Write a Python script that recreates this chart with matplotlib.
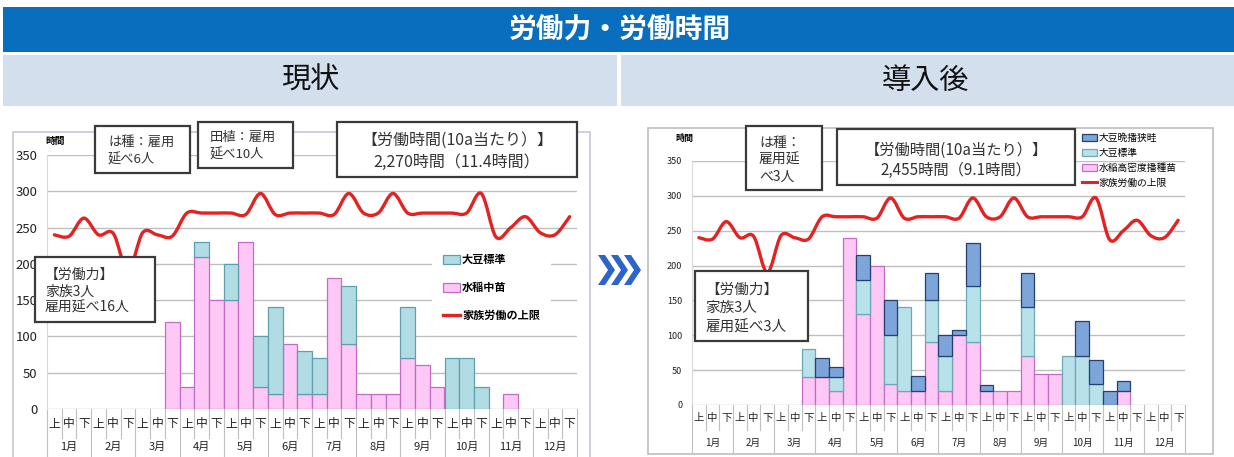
import numpy as np
import matplotlib
matplotlib.use('Agg')
import matplotlib.pyplot as plt
from matplotlib.patches import Rectangle, Polygon, PathPatch, Patch
from matplotlib.path import Path
from matplotlib.lines import Line2D

plt.rcParams['font.family'] = ['Noto Sans CJK JP', 'DejaVu Sans']

### data (36 periods: 1月上 ... 12月下)

months = [str(m) + '月' for m in range(1, 13)]
thirds = ['上', '中', '下']

# 現状
before_rice = [0, 0, 0, 0, 0, 0, 0, 0, 120, 30, 210, 150, 150, 230, 30, 20, 90, 20,
               20, 180, 90, 20, 20, 20, 70, 60, 30, 0, 0, 0, 0, 20, 0, 0, 0, 0]
before_soy = [0, 0, 0, 0, 0, 0, 0, 0, 0, 0, 20, 0, 50, 0, 70, 120, 0, 60,
              50, 0, 80, 0, 0, 0, 70, 0, 0, 70, 70, 30, 0, 0, 0, 0, 0, 0]

# 導入後
after_rice = [0, 0, 0, 0, 0, 0, 0, 0, 40, 40, 20, 240, 130, 200, 30, 20, 20, 90,
              20, 100, 90, 20, 20, 20, 70, 45, 45, 0, 0, 0, 0, 20, 0, 0, 0, 0]
after_soy_std = [0, 0, 0, 0, 0, 0, 0, 0, 40, 0, 20, 0, 50, 0, 70, 120, 0, 60,
                 50, 0, 80, 0, 0, 0, 70, 0, 0, 70, 70, 30, 0, 0, 0, 0, 0, 0]
after_soy_late = [0, 0, 0, 0, 0, 0, 0, 0, 0, 28, 15, 0, 35, 0, 50, 0, 22, 40,
                  30, 8, 63, 8, 0, 0, 50, 0, 0, 0, 50, 35, 20, 15, 0, 0, 0, 0]

# 家族労働の上限
limit = [240, 238, 263, 240, 242, 190, 243, 240, 238, 270, 270, 270, 270, 268, 297, 268, 270, 270,
         270, 268, 297, 270, 270, 297, 270, 270, 270, 270, 270, 297, 237, 250, 265, 243, 240, 265]

### colours

pink, pink_edge = '#FDC8F6', '#C46CC4'
soy1, soy1_edge = '#B2DCE4', '#5F9FAD'
soy2, soy2_edge = '#B9E1EA', '#6FA8B4'
late, late_edge = '#7DA5DA', '#23406E'
red = '#E32222'
grid = '#BFBFBF'

W, H = 1234, 457
fig = plt.figure(figsize=(W / 100, H / 100), dpi=100)


def fx(px):
  return px / W


def fy(py):
  return 1 - py / H


def rect(x0, y0, x1, y1, fc, ec='none', lw=0, z=1):
  fig.patches.append(Rectangle((fx(x0), fy(y1)), (x1 - x0) / W, (y1 - y0) / H,
                               transform=fig.transFigure, fc=fc, ec=ec, lw=lw, zorder=z))


def smooth_path(ys):
  # smoothed line like a spreadsheet chart, as bezier segments through the points
  ys = np.asarray(ys, float)
  pts = np.column_stack([np.arange(len(ys)), ys])
  n = len(pts)
  verts = [tuple(pts[0])]
  codes = [Path.MOVETO]
  for i in range(n - 1):
    p0 = pts[max(i - 1, 0)]
    p1 = pts[i]
    p2 = pts[i + 1]
    p3 = pts[min(i + 2, n - 1)]
    verts += [tuple(p1 + (p2 - p0) / 6), tuple(p2 - (p3 - p1) / 6), tuple(p2)]
    codes += [Path.CURVE4] * 3
  return Path(verts, codes)


def stacked(ax, series):
  x = np.arange(36)
  bottom = np.zeros(36)
  for vals, fc, ec in series:
    vals = np.asarray(vals, float)
    m = vals > 0
    ax.bar(x[m], vals[m], bottom=bottom[m], width=1.0, color=fc, edgecolor=ec, lw=0.9, zorder=2)
    bottom += vals


def make_axes(x0, x1, y_top, y_bot, tick_fs):
  ax = fig.add_axes([fx(x0), fy(y_bot), (x1 - x0) / W, (y_bot - y_top) / H])
  ax.set_xlim(-0.5, 35.5)
  ax.set_ylim(0, 350)
  ax.set_yticks(range(0, 351, 50))
  ax.set_xticks([])
  ax.yaxis.grid(True, color=grid, lw=1.0)
  ax.set_axisbelow(True)
  for s in ['top', 'right', 'bottom']:
    ax.spines[s].set_visible(False)
  ax.spines['left'].set_color('#D9D9D9')
  ax.tick_params(axis='y', length=0, labelsize=tick_fs, pad=7, colors='#222222')
  ax.patch.set_alpha(0)
  return ax


def cat_table(ax, px_bot, px_h, row1_y, row1_bot, row2_y, tab_bot, fs1, fs2):
  trans = ax.get_xaxis_transform()

  def to_ax(py):
    return (px_bot - py) / px_h

  for i in range(37):
    b = tab_bot if i % 3 == 0 else row1_bot
    ax.plot([i - 0.5, i - 0.5], [0, to_ax(b)], transform=trans, color=grid, lw=0.8, clip_on=False)
  for i in range(36):
    ax.text(i, to_ax(row1_y), thirds[i % 3], transform=trans, ha='center', va='center',
            fontsize=fs1, color='#222222', clip_on=False)
  for m in range(12):
    ax.text(3 * m + 1, to_ax(row2_y), months[m], transform=trans, ha='center', va='center',
            fontsize=fs2, color='#222222', clip_on=False)


def text_box(x0, y0, x1, y1, lines, size, tx=None):
  rect(x0, y0, x1, y1, 'white', '#3A3A3A', 1.6, z=5)
  for s, py in lines:
    if tx is None:
      fig.text(fx((x0 + x1) / 2), fy(py), s, ha='center', va='center', fontsize=size,
               color='#333333', zorder=6)
    else:
      fig.text(fx(tx), fy(py), s, ha='left', va='center', fontsize=size,
               color='#333333', zorder=6)


### header bands

rect(3, 7, W, 52, '#0A6EBE')
fig.text(fx(620), fy(30), '労働力・労働時間', ha='center', va='center', fontsize=20,
         color='white', weight='bold')
rect(3, 55, 617, 106, '#D4DFED')
rect(621, 55, W, 106, '#D4DFED')
fig.text(fx(310), fy(81), '現状', ha='center', va='center', fontsize=21, color='#111111')
fig.text(fx(925), fy(81), '導入後', ha='center', va='center', fontsize=21, color='#111111')

# chart frames
rect(13, 132, 590, 470, 'none', '#C9C3DD', 1.2, z=0.5)
rect(648, 128, 1213, 454, 'none', '#BDBDBD', 1.2, z=0.5)

### 現状

ax1 = make_axes(47, 577, 155, 409, 9.5)
stacked(ax1, [(before_rice, pink, pink_edge), (before_soy, soy1, soy1_edge)])
ax1.add_patch(PathPatch(smooth_path(limit), fill=False, ec=red, lw=2.4, zorder=3,
                        capstyle='round'))
cat_table(ax1, 409, 254, 424, 438, 447, 470, 8.5, 8)
fig.text(fx(45), fy(141), '時間', ha='left', va='center', fontsize=7, weight='bold')

h1 = [Patch(fc=soy1, ec=soy1_edge, lw=0.9), Patch(fc=pink, ec=pink_edge, lw=0.9),
      Line2D([], [], color=red, lw=2.4)]
leg1 = ax1.legend(h1, ['大豆標準', '水稲中苗', '家族労働の上限'], loc='upper left',
                  bbox_to_anchor=(fx(432), fy(242)), bbox_transform=fig.transFigure,
                  frameon=True, fancybox=False, edgecolor='none', facecolor='white', framealpha=1,
                  prop={'size': 8, 'weight': 'bold'}, labelspacing=1.35, handlelength=1.5,
                  handleheight=0.8, handletextpad=0.2, borderpad=1.0, borderaxespad=0)
leg1.set_zorder(4)

text_box(95, 126, 190, 173, [('は種：雇用', 142), ('延べ6人', 160)], 9.5, tx=108)
text_box(198, 122, 293, 168, [('田植：雇用', 137), ('延べ10人', 155)], 9.5, tx=210)
text_box(337, 122, 577, 177, [('【労働時間(10a当たり）】', 140), ('2,270時間（11.4時間）', 162)], 11.5)
text_box(35, 257, 155, 322, [('【労働力】', 275), ('家族3人', 292), ('雇用延べ16人', 308)], 10, tx=45)

### arrow

for x0 in [598, 611, 624]:
  fig.patches.append(Polygon([(fx(x0), fy(255)), (fx(x0 + 7), fy(255)), (fx(x0 + 17), fy(270)),
                              (fx(x0 + 7), fy(285)), (fx(x0), fy(285)), (fx(x0 + 10), fy(270))],
                             closed=True, transform=fig.transFigure, fc='#2E63C9', ec='none'))

### 導入後

ax2 = make_axes(692, 1185, 161, 405, 6.5)
stacked(ax2, [(after_rice, pink, pink_edge), (after_soy_std, soy2, soy2_edge),
              (after_soy_late, late, late_edge)])
ax2.add_patch(PathPatch(smooth_path(limit), fill=False, ec=red, lw=2.4, zorder=3,
                        capstyle='round'))
cat_table(ax2, 405, 244, 418, 430, 443, 452, 7.5, 7)
fig.text(fx(675), fy(138), '時間', ha='left', va='center', fontsize=6.5, weight='bold')

h2 = [Patch(fc=late, ec=late_edge, lw=0.9), Patch(fc=soy2, ec=soy2_edge, lw=0.9),
      Patch(fc=pink, ec=pink_edge, lw=0.9), Line2D([], [], color=red, lw=2.2)]
leg2 = ax2.legend(h2, ['大豆晩播狭畦', '大豆標準', '水稲高密度播種苗', '家族労働の上限'],
                  loc='upper left', bbox_to_anchor=(fx(1080), fy(131)),
                  bbox_transform=fig.transFigure, frameon=False,
                  prop={'size': 7}, labelspacing=0.5, handlelength=1.5, handleheight=0.8,
                  handletextpad=0.2, borderpad=0.2, borderaxespad=0)

text_box(746, 126, 822, 190, [('は種：', 143), ('雇用延', 160), ('べ3人', 177)], 10, tx=759)
text_box(837, 129, 1075, 185, [('【労働時間(10a当たり）】', 150), ('2,455時間（9.1時間）', 170)], 11)
text_box(695, 271, 808, 341, [('【労働力】', 290), ('家族3人', 308), ('雇用延べ3人', 327)], 10.5, tx=705)

fig.savefig('out.png', dpi=100)
